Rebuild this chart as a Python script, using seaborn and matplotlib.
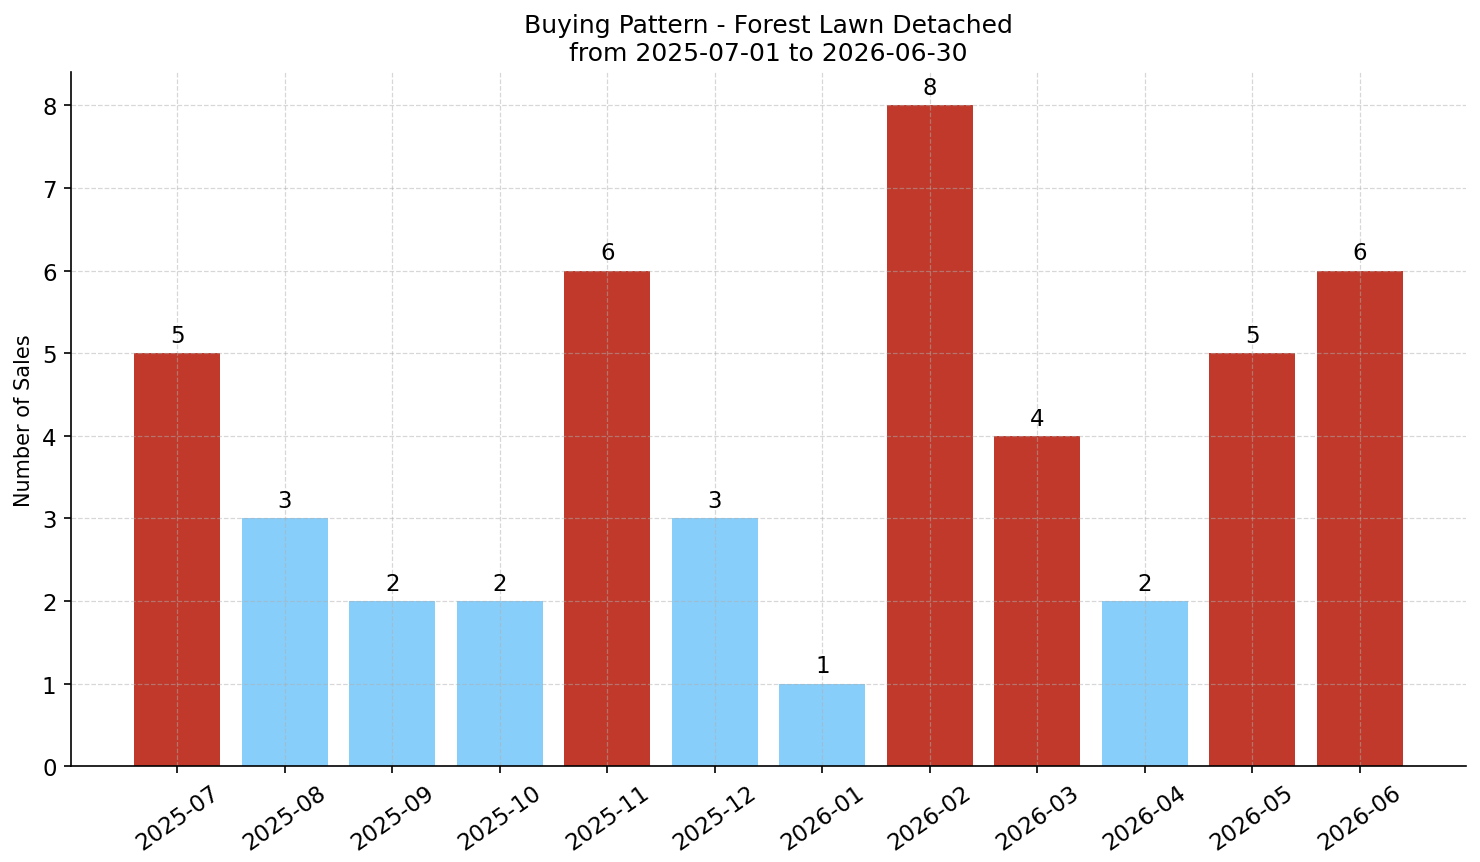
import matplotlib
matplotlib.use('Agg')
import matplotlib.pyplot as plt
import seaborn as sns
import numpy as np

# data
months = ['2025-07', '2025-08', '2025-09', '2025-10', '2025-11', '2025-12',
          '2026-01', '2026-02', '2026-03', '2026-04', '2026-05', '2026-06']
sales = [5, 3, 2, 2, 6, 3, 1, 8, 4, 2, 5, 6]

high_color = '#C0392B'
low_color = '#87CEFA'

avg = np.mean(sales)
colors = [high_color if v > avg else low_color for v in sales]

plt.rcParams['font.family'] = ['DejaVu Sans']

fig, ax = plt.subplots(figsize=(9.873, 5.753), dpi=150)
sns.barplot(x=months, y=sales, hue=months, palette=colors, legend=False,
            width=0.8, saturation=1, linewidth=0, ax=ax)

for c in ax.containers:
    ax.bar_label(c, padding=3, fontsize=11)

n = len(months)
span = (n - 1) + 0.8
ax.set_xlim(-0.4 - 0.05 * span, n - 1 + 0.4 + 0.05 * span)
ax.set_ylim(0, max(sales) * 1.05)

ax.set_title('Buying Pattern - Forest Lawn Detached\nfrom 2025-07-01 to 2026-06-30', fontsize=12)
ax.set_ylabel('Number of Sales', fontsize=10)
ax.set_xlabel('')
ax.grid(True, linestyle='--', color='#b0b0b0', alpha=0.5, linewidth=0.6)
ax.tick_params(labelsize=11)
plt.setp(ax.get_xticklabels(), rotation=35, ha='center')
sns.despine(ax=ax)

fig.subplots_adjust(left=0.048, right=0.99, top=0.915, bottom=0.111)
plt.savefig('out.png', dpi=150)
